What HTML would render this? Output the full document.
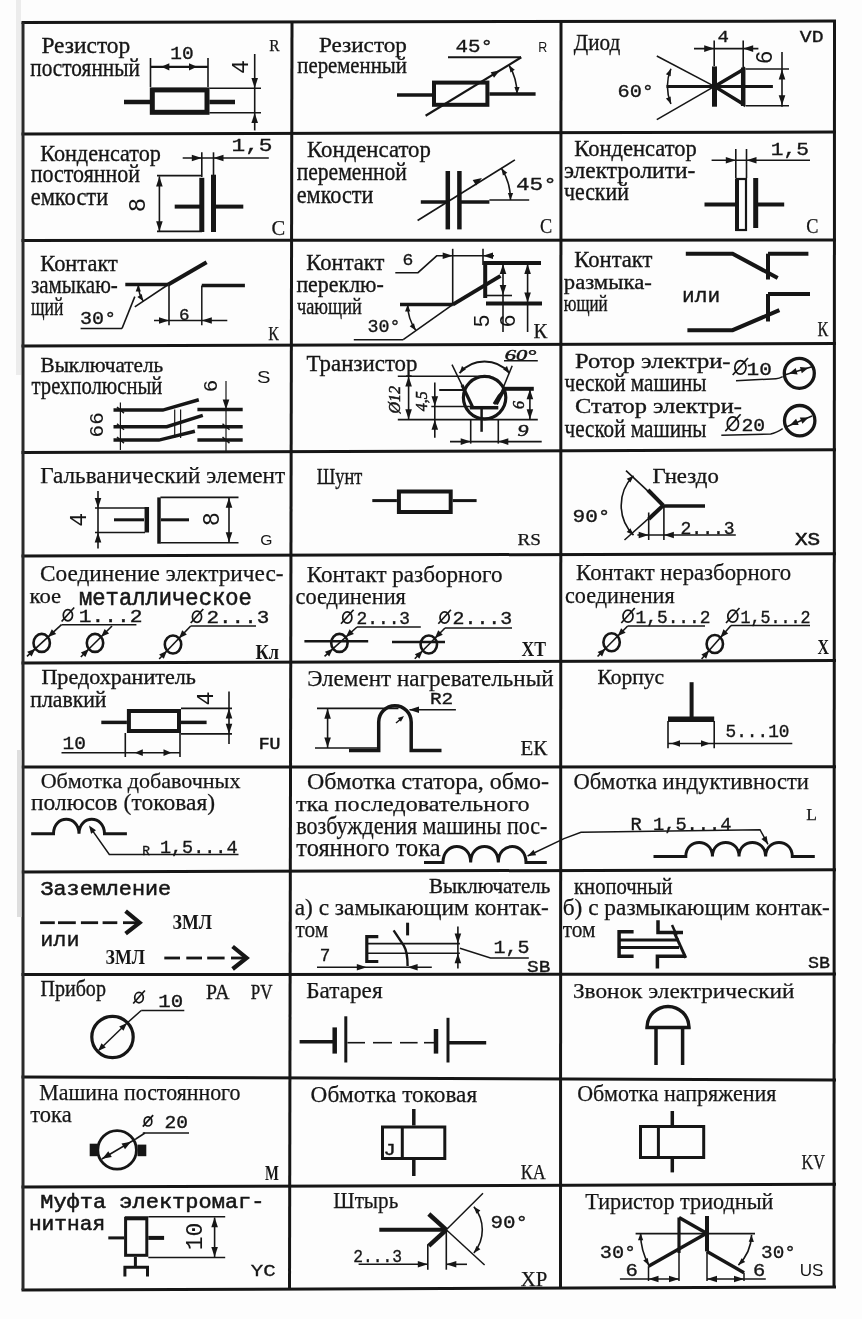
<!DOCTYPE html>
<html lang="ru"><head><meta charset="utf-8"><title>УГО</title>
<style>html,body{margin:0;padding:0;background:#fff;}svg{display:block;will-change:transform;}</style></head>
<body><svg width="862" height="1319" viewBox="0 0 862 1319">
<rect width="862" height="1319" fill="#fdfdfd"/>
<g fill="#161616" stroke-linecap="butt">
<line x1="21.5" y1="22.5" x2="836.0" y2="21" stroke-width="3" stroke="#161616"/>
<line x1="21.5" y1="134" x2="836.0" y2="132" stroke-width="3" stroke="#161616"/>
<line x1="21.5" y1="240.5" x2="836.0" y2="240" stroke-width="3" stroke="#161616"/>
<line x1="21.5" y1="346" x2="836.0" y2="343.6" stroke-width="3" stroke="#161616"/>
<line x1="21.5" y1="452.5" x2="836.0" y2="449.8" stroke-width="3" stroke="#161616"/>
<line x1="21.5" y1="556" x2="836.0" y2="553.7" stroke-width="3" stroke="#161616"/>
<line x1="21.5" y1="663" x2="836.0" y2="660.4" stroke-width="3" stroke="#161616"/>
<line x1="21.5" y1="767" x2="836.0" y2="766.8" stroke-width="3" stroke="#161616"/>
<line x1="21.5" y1="872" x2="836.0" y2="869.7" stroke-width="3" stroke="#161616"/>
<line x1="21.5" y1="974.5" x2="836.0" y2="974.1" stroke-width="3" stroke="#161616"/>
<line x1="21.5" y1="1077" x2="836.0" y2="1079.9" stroke-width="3" stroke="#161616"/>
<line x1="21.5" y1="1187" x2="836.0" y2="1184.3" stroke-width="3" stroke="#161616"/>
<line x1="21.5" y1="1290" x2="836.0" y2="1287" stroke-width="3" stroke="#161616"/>
<line x1="23" y1="22.5" x2="23" y2="1290" stroke-width="3" stroke="#2a2a2a"/>
<line x1="292" y1="21.5" x2="289.5" y2="1290" stroke-width="3" stroke="#161616"/>
<line x1="561" y1="21.5" x2="560.5" y2="1287.5" stroke-width="3" stroke="#161616"/>
<line x1="834.5" y1="21.5" x2="834" y2="1287.5" stroke-width="3" stroke="#161616"/>
<rect x="17" y="750" width="4.5" height="167" fill="#dedede"/>
<rect x="16" y="0" width="5" height="375" fill="#ececec"/>
<text x="41.4" y="53.2" font-size="22.5" font-family="Liberation Serif" stroke="#161616" stroke-width="0.35" textLength="88.8" lengthAdjust="spacingAndGlyphs">Резистор</text>
<text x="30.3" y="75.5" font-size="24.4" font-family="Liberation Serif" stroke="#161616" stroke-width="0.35" textLength="109.6" lengthAdjust="spacingAndGlyphs">постоянный</text>
<text x="170.3" y="59.4" font-size="18" font-family="Liberation Mono" stroke="#161616" stroke-width="0.35" textLength="23.4" lengthAdjust="spacingAndGlyphs">10</text>
<rect x="152.3" y="89.9" width="54.7" height="22.4" stroke-width="5" stroke="#161616" fill="none"/>
<line x1="124" y1="102" x2="150" y2="102" stroke-width="4.5" stroke="#161616"/>
<line x1="209.4" y1="102" x2="235" y2="102" stroke-width="4.5" stroke="#161616"/>
<line x1="150.5" y1="58" x2="150.5" y2="87" stroke-width="1.6" stroke="#161616"/>
<line x1="208" y1="58" x2="208" y2="87" stroke-width="1.6" stroke="#161616"/>
<line x1="150.5" y1="66.8" x2="208" y2="66.8" stroke-width="2.2" stroke="#161616"/>
<path d="M161.3,66.8 L169.3,63.2 L169.3,70.4 Z" fill="#161616"/>
<path d="M197.0,66.8 L189.0,70.4 L189.0,63.2 Z" fill="#161616"/>
<text x="0" y="0" font-size="23" font-family="Liberation Mono" stroke="#161616" stroke-width="0.05" text-anchor="middle" dominant-baseline="central" transform="translate(242,67) rotate(-90)">4</text>
<line x1="254.7" y1="54" x2="254.7" y2="130.4" stroke-width="1.6" stroke="#161616"/>
<path d="M254.7,88.0 L251.4,78.0 L258.0,78.0 Z" fill="#161616"/>
<path d="M254.7,113.0 L258.0,123.0 L251.4,123.0 Z" fill="#161616"/>
<line x1="209.4" y1="88.2" x2="261" y2="88.2" stroke-width="1.6" stroke="#161616"/>
<line x1="209.4" y1="112.7" x2="261" y2="112.7" stroke-width="1.6" stroke="#161616"/>
<text x="269.2" y="50.8" font-size="16" font-family="Liberation Serif" stroke="#161616" stroke-width="0.25" textLength="10.3" lengthAdjust="spacingAndGlyphs">R</text>
<text x="318.9" y="51.8" font-size="21" font-family="Liberation Serif" stroke="#161616" stroke-width="0.35" textLength="88.0" lengthAdjust="spacingAndGlyphs">Резистор</text>
<text x="297.3" y="73.4" font-size="23" font-family="Liberation Serif" stroke="#161616" stroke-width="0.35" textLength="109.6" lengthAdjust="spacingAndGlyphs">переменный</text>
<text x="455.5" y="52" font-size="19" font-family="Liberation Mono" stroke="#161616" stroke-width="0.35" textLength="37.5" lengthAdjust="spacingAndGlyphs">45°</text>
<text x="538.3" y="52" font-size="14" font-family="Liberation Sans" textLength="9.0" lengthAdjust="spacingAndGlyphs">R</text>
<line x1="448" y1="57.3" x2="521" y2="57.3" stroke-width="2" stroke="#161616"/>
<rect x="434" y="82.6" width="53.4" height="22.2" stroke-width="4" stroke="#161616" fill="none"/>
<line x1="397" y1="95" x2="432" y2="95" stroke-width="3.5" stroke="#161616"/>
<line x1="489.4" y1="94" x2="535.6" y2="94" stroke-width="3.5" stroke="#161616"/>
<line x1="425.6" y1="115.7" x2="521.3" y2="57.3" stroke-width="2.2" stroke="#161616"/>
<path d="M500.0,70.3 L494.0,77.7 L490.7,72.3 Z" fill="#161616"/>
<path d="M509.0,65.2 A56,56 0 0 1 517.0,94.0" stroke-width="1.6" stroke="#161616" fill="none"/>
<path d="M509.0,65.2 L514.8,69.8 L510.4,72.5 Z" fill="#161616"/>
<path d="M517.0,94.0 L514.4,87.0 L519.6,87.0 Z" fill="#161616"/>
<text x="573.8" y="49.5" font-size="23" font-family="Liberation Serif" stroke="#161616" stroke-width="0.35" textLength="46.5" lengthAdjust="spacingAndGlyphs">Диод</text>
<text x="717.5" y="42" font-size="17" font-family="Liberation Mono" stroke="#161616" stroke-width="0.35" textLength="11.4" lengthAdjust="spacingAndGlyphs">4</text>
<text x="799.8" y="42" font-size="17" font-family="Liberation Mono" stroke="#161616" stroke-width="0.35" textLength="23.7" lengthAdjust="spacingAndGlyphs">VD</text>
<line x1="694" y1="48.6" x2="758.4" y2="48.6" stroke-width="1.6" stroke="#161616"/>
<path d="M714.2,48.6 L704.2,51.9 L704.2,45.3 Z" fill="#161616"/>
<path d="M743.2,48.6 L753.2,45.3 L753.2,51.9 Z" fill="#161616"/>
<line x1="714.2" y1="40.6" x2="714.2" y2="66" stroke-width="1.6" stroke="#161616"/>
<line x1="743.2" y1="40.6" x2="743.2" y2="68" stroke-width="1.6" stroke="#161616"/>
<line x1="714.5" y1="66.4" x2="714.5" y2="106.7" stroke-width="5" stroke="#161616"/>
<path d="M714.5,86.4 L743.2,69.5 L743.2,104 Z" stroke-width="3.5" stroke="#161616" fill="none"/>
<line x1="743.2" y1="67.5" x2="743.2" y2="106" stroke-width="4.5" stroke="#161616"/>
<line x1="666.5" y1="86.4" x2="772.9" y2="86.4" stroke-width="3" stroke="#161616"/>
<line x1="714.5" y1="86.4" x2="656.8" y2="56" stroke-width="1.6" stroke="#161616"/>
<line x1="714.5" y1="86.4" x2="656.8" y2="119.6" stroke-width="1.6" stroke="#161616"/>
<path d="M670.9,68.8 A47,47 0 0 0 670.9,104.0" stroke-width="1.6" stroke="#161616" fill="none"/>
<path d="M670.9,68.8 L670.7,76.3 L665.9,74.3 Z" fill="#161616"/>
<path d="M670.9,104.0 L665.9,98.5 L670.7,96.5 Z" fill="#161616"/>
<text x="617.5" y="97" font-size="19" font-family="Liberation Mono" stroke="#161616" stroke-width="0.35" textLength="36.5" lengthAdjust="spacingAndGlyphs">60°</text>
<line x1="782" y1="52" x2="782" y2="106.7" stroke-width="1.6" stroke="#161616"/>
<line x1="745.5" y1="69" x2="789" y2="69" stroke-width="1.6" stroke="#161616"/>
<line x1="745.5" y1="105.7" x2="789" y2="105.7" stroke-width="1.6" stroke="#161616"/>
<path d="M782.0,69.5 L785.3,79.5 L778.7,79.5 Z" fill="#161616"/>
<path d="M782.0,105.2 L778.7,95.2 L785.3,95.2 Z" fill="#161616"/>
<text x="0" y="0" font-size="23" font-family="Liberation Mono" stroke="#161616" stroke-width="0.05" text-anchor="middle" dominant-baseline="central" transform="translate(765.6,57.4) rotate(-90)">6</text>
<text x="40.2" y="161.1" font-size="24" font-family="Liberation Serif" stroke="#161616" stroke-width="0.35" textLength="120.7" lengthAdjust="spacingAndGlyphs">Конденсатор</text>
<text x="30.7" y="182.3" font-size="26" font-family="Liberation Serif" stroke="#161616" stroke-width="0.35" textLength="109.4" lengthAdjust="spacingAndGlyphs">постоянной</text>
<text x="30.7" y="205.3" font-size="26" font-family="Liberation Serif" stroke="#161616" stroke-width="0.35" textLength="77.5" lengthAdjust="spacingAndGlyphs">емкости</text>
<text x="231.5" y="150.7" font-size="18" font-family="Liberation Mono" stroke="#161616" stroke-width="0.35" textLength="41.0" lengthAdjust="spacingAndGlyphs">1,5</text>
<line x1="182.7" y1="158" x2="268.8" y2="158" stroke-width="1.6" stroke="#161616"/>
<path d="M201.8,158.0 L191.8,161.3 L191.8,154.7 Z" fill="#161616"/>
<path d="M213.5,158.0 L223.5,154.7 L223.5,161.3 Z" fill="#161616"/>
<line x1="201.8" y1="152.3" x2="201.8" y2="177" stroke-width="1.6" stroke="#161616"/>
<line x1="213.5" y1="152.3" x2="213.5" y2="175" stroke-width="1.6" stroke="#161616"/>
<line x1="201.8" y1="177.8" x2="201.8" y2="232" stroke-width="5" stroke="#161616"/>
<line x1="213.5" y1="174.7" x2="213.5" y2="232" stroke-width="5" stroke="#161616"/>
<line x1="174.7" y1="206.6" x2="200" y2="206.6" stroke-width="4" stroke="#161616"/>
<line x1="216" y1="206.6" x2="243.3" y2="206.6" stroke-width="4" stroke="#161616"/>
<line x1="159.4" y1="176.3" x2="159.4" y2="231.4" stroke-width="1.6" stroke="#161616"/>
<path d="M159.4,176.5 L162.7,186.5 L156.1,186.5 Z" fill="#161616"/>
<path d="M159.4,231.2 L156.1,221.2 L162.7,221.2 Z" fill="#161616"/>
<line x1="157" y1="175.6" x2="202" y2="175.6" stroke-width="1.6" stroke="#161616"/>
<line x1="157" y1="231.4" x2="202" y2="231.4" stroke-width="1.6" stroke="#161616"/>
<text x="0" y="0" font-size="24" font-family="Liberation Mono" stroke="#161616" stroke-width="0.05" text-anchor="middle" dominant-baseline="central" transform="translate(138.8,205) rotate(-90)">8</text>
<text x="271.5" y="235.3" font-size="21" font-family="Liberation Serif" stroke="#161616" stroke-width="0.25" textLength="13.7" lengthAdjust="spacingAndGlyphs">C</text>
<text x="307.0" y="157.4" font-size="23.5" font-family="Liberation Serif" stroke="#161616" stroke-width="0.35" textLength="123.9" lengthAdjust="spacingAndGlyphs">Конденсатор</text>
<text x="296.7" y="180.4" font-size="24.4" font-family="Liberation Serif" stroke="#161616" stroke-width="0.35" textLength="110.2" lengthAdjust="spacingAndGlyphs">переменной</text>
<text x="296.7" y="203.4" font-size="26" font-family="Liberation Serif" stroke="#161616" stroke-width="0.35" textLength="76.8" lengthAdjust="spacingAndGlyphs">емкости</text>
<line x1="447.8" y1="171" x2="447.8" y2="229.4" stroke-width="4.5" stroke="#161616"/>
<line x1="459.4" y1="171" x2="459.4" y2="229.4" stroke-width="4.5" stroke="#161616"/>
<line x1="420.8" y1="202" x2="446" y2="202" stroke-width="3.5" stroke="#161616"/>
<line x1="461" y1="202" x2="489.4" y2="202" stroke-width="3.5" stroke="#161616"/>
<line x1="489.4" y1="200" x2="529.2" y2="200" stroke-width="1.6" stroke="#161616"/>
<line x1="417.6" y1="220.5" x2="514.9" y2="159.9" stroke-width="1.7" stroke="#161616"/>
<path d="M482.0,178.0 L476.1,185.5 L472.7,180.1 Z" fill="#161616"/>
<path d="M501.4,168.2 A60,60 0 0 1 510.5,200.0" stroke-width="1.6" stroke="#161616" fill="none"/>
<path d="M501.4,168.2 L507.3,172.8 L502.9,175.5 Z" fill="#161616"/>
<path d="M510.5,200.0 L507.9,193.0 L513.1,193.0 Z" fill="#161616"/>
<text x="516.0" y="190" font-size="19" font-family="Liberation Mono" stroke="#161616" stroke-width="0.35" textLength="40.8" lengthAdjust="spacingAndGlyphs">45°</text>
<text x="539.9" y="233.3" font-size="21" font-family="Liberation Serif" stroke="#161616" stroke-width="0.25" textLength="12.2" lengthAdjust="spacingAndGlyphs">C</text>
<text x="574.3" y="155.6" font-size="23.5" font-family="Liberation Serif" stroke="#161616" stroke-width="0.35" textLength="122.6" lengthAdjust="spacingAndGlyphs">Конденсатор</text>
<text x="563.9" y="178" font-size="22.7" font-family="Liberation Serif" stroke="#161616" stroke-width="0.35" textLength="131.4" lengthAdjust="spacingAndGlyphs">электролити-</text>
<text x="563.9" y="200.4" font-size="24.4" font-family="Liberation Serif" stroke="#161616" stroke-width="0.35" textLength="65.0" lengthAdjust="spacingAndGlyphs">ческий</text>
<text x="770.8" y="155.4" font-size="18" font-family="Liberation Mono" stroke="#161616" stroke-width="0.35" textLength="38.1" lengthAdjust="spacingAndGlyphs">1,5</text>
<line x1="711.6" y1="160.3" x2="810" y2="160.3" stroke-width="1.6" stroke="#161616"/>
<path d="M735.8,160.3 L725.8,163.6 L725.8,157.0 Z" fill="#161616"/>
<path d="M746.5,160.3 L756.5,157.0 L756.5,163.6 Z" fill="#161616"/>
<line x1="735.8" y1="149" x2="735.8" y2="178" stroke-width="1.6" stroke="#161616"/>
<line x1="746.5" y1="149" x2="746.5" y2="178" stroke-width="1.6" stroke="#161616"/>
<rect x="736.5" y="179" width="9.5" height="51" stroke-width="2.2" stroke="#161616" fill="none"/>
<line x1="737" y1="179" x2="737" y2="231" stroke-width="4" stroke="#161616"/>
<line x1="755.7" y1="178" x2="755.7" y2="228" stroke-width="5" stroke="#161616"/>
<line x1="704.5" y1="204.5" x2="735" y2="204.5" stroke-width="4" stroke="#161616"/>
<line x1="758" y1="204.5" x2="784.2" y2="204.5" stroke-width="4" stroke="#161616"/>
<text x="806.3" y="232.8" font-size="21" font-family="Liberation Serif" stroke="#161616" stroke-width="0.25" textLength="12.2" lengthAdjust="spacingAndGlyphs">C</text>
<text x="40.3" y="271.1" font-size="23" font-family="Liberation Serif" stroke="#161616" stroke-width="0.35" textLength="77.5" lengthAdjust="spacingAndGlyphs">Контакт</text>
<text x="31.0" y="293.2" font-size="25" font-family="Liberation Serif" stroke="#161616" stroke-width="0.35" textLength="86.8" lengthAdjust="spacingAndGlyphs">замыкаю-</text>
<text x="31.0" y="315.2" font-size="25" font-family="Liberation Serif" stroke="#161616" stroke-width="0.35" textLength="32.3" lengthAdjust="spacingAndGlyphs">щий</text>
<text x="80.1" y="323.7" font-size="19" font-family="Liberation Mono" stroke="#161616" stroke-width="0.35" textLength="36.1" lengthAdjust="spacingAndGlyphs">30°</text>
<line x1="80.6" y1="328.5" x2="122" y2="328.5" stroke-width="1.6" stroke="#161616"/>
<line x1="122" y1="328.5" x2="134.8" y2="296.6" stroke-width="1.6" stroke="#161616"/>
<line x1="125.3" y1="284.5" x2="168.3" y2="284.5" stroke-width="3.5" stroke="#161616"/>
<line x1="168.3" y1="284.5" x2="206.6" y2="262.2" stroke-width="4" stroke="#161616"/>
<line x1="168.3" y1="284.5" x2="134.8" y2="306.8" stroke-width="1.6" stroke="#161616"/>
<path d="M138.3,284.5 A30,30 0 0 0 143.4,301.3" stroke-width="1.5" stroke="#161616" fill="none"/>
<path d="M138.3,284.5 L140.9,291.5 L135.7,291.5 Z" fill="#161616"/>
<path d="M143.4,301.3 L137.4,296.9 L141.7,294.0 Z" fill="#161616"/>
<line x1="169" y1="284.5" x2="169" y2="325.3" stroke-width="1.6" stroke="#161616"/>
<line x1="201.8" y1="285.4" x2="201.8" y2="325.3" stroke-width="1.5" stroke="#161616"/>
<line x1="201.8" y1="285.4" x2="244.9" y2="285.4" stroke-width="3.5" stroke="#161616"/>
<line x1="154" y1="320.5" x2="227.3" y2="320.5" stroke-width="1.6" stroke="#161616"/>
<path d="M169.0,320.5 L159.0,323.8 L159.0,317.2 Z" fill="#161616"/>
<path d="M201.8,320.5 L211.8,317.2 L211.8,323.8 Z" fill="#161616"/>
<text x="179.0" y="320" font-size="17" font-family="Liberation Mono" stroke="#161616" stroke-width="0.35" textLength="10.5" lengthAdjust="spacingAndGlyphs">6</text>
<text x="268.3" y="339.7" font-size="19" font-family="Liberation Serif" stroke="#161616" stroke-width="0.25" textLength="10.6" lengthAdjust="spacingAndGlyphs">К</text>
<text x="306.3" y="270" font-size="23" font-family="Liberation Serif" stroke="#161616" stroke-width="0.35" textLength="78.1" lengthAdjust="spacingAndGlyphs">Контакт</text>
<text x="296.4" y="292" font-size="24" font-family="Liberation Serif" stroke="#161616" stroke-width="0.35" textLength="87.4" lengthAdjust="spacingAndGlyphs">переклю-</text>
<text x="297.0" y="314" font-size="24" font-family="Liberation Serif" stroke="#161616" stroke-width="0.35" textLength="64.8" lengthAdjust="spacingAndGlyphs">чающий</text>
<text x="402.5" y="264.7" font-size="17" font-family="Liberation Mono" stroke="#161616" stroke-width="0.35" textLength="10.8" lengthAdjust="spacingAndGlyphs">6</text>
<path d="M395.3,272.7 L418,272.7 L436.7,255.8 L494,255.8" stroke-width="1.6" stroke="#161616" fill="none"/>
<path d="M452.7,255.8 L442.7,259.1 L442.7,252.5 Z" fill="#161616"/>
<path d="M483.0,255.8 L493.0,252.5 L493.0,259.1 Z" fill="#161616"/>
<line x1="452.7" y1="248.8" x2="452.7" y2="304.6" stroke-width="1.6" stroke="#161616"/>
<line x1="483" y1="248.8" x2="483" y2="265" stroke-width="1.6" stroke="#161616"/>
<line x1="400" y1="304.6" x2="452.7" y2="304.6" stroke-width="3.5" stroke="#161616"/>
<line x1="452.7" y1="304.6" x2="500.5" y2="275.9" stroke-width="4" stroke="#161616"/>
<line x1="353.8" y1="339.7" x2="403.2" y2="339.7" stroke-width="1.6" stroke="#161616"/>
<line x1="403.2" y1="339.7" x2="452.7" y2="304.6" stroke-width="1.6" stroke="#161616"/>
<path d="M407.7,304.6 A45,45 0 0 0 415.8,330.4" stroke-width="1.5" stroke="#161616" fill="none"/>
<path d="M407.7,304.6 L410.3,311.6 L405.1,311.6 Z" fill="#161616"/>
<path d="M415.8,330.4 L409.7,326.2 L414.0,323.2 Z" fill="#161616"/>
<text x="367.5" y="331.7" font-size="19" font-family="Liberation Mono" stroke="#161616" stroke-width="0.35" textLength="33.0" lengthAdjust="spacingAndGlyphs">30°</text>
<path d="M485.2,298 L485.2,263 L541,263" stroke-width="4" stroke="#161616" fill="none"/>
<line x1="486" y1="303.6" x2="542" y2="303.6" stroke-width="4" stroke="#161616"/>
<line x1="503" y1="263" x2="503" y2="332" stroke-width="1.6" stroke="#161616"/>
<path d="M503.0,264.0 L506.3,274.0 L499.7,274.0 Z" fill="#161616"/>
<path d="M503.0,295.0 L499.7,285.0 L506.3,285.0 Z" fill="#161616"/>
<line x1="485" y1="295.5" x2="512" y2="295.5" stroke-width="1.6" stroke="#161616"/>
<line x1="527.6" y1="263" x2="527.6" y2="332" stroke-width="1.6" stroke="#161616"/>
<path d="M527.6,264.0 L530.9,274.0 L524.3,274.0 Z" fill="#161616"/>
<path d="M527.6,302.6 L524.3,292.6 L530.9,292.6 Z" fill="#161616"/>
<text x="0" y="0" font-size="22" font-family="Liberation Mono" stroke="#161616" stroke-width="0.05" text-anchor="middle" dominant-baseline="central" transform="translate(483.5,321) rotate(-90)">5</text>
<text x="0" y="0" font-size="22" font-family="Liberation Mono" stroke="#161616" stroke-width="0.05" text-anchor="middle" dominant-baseline="central" transform="translate(509.5,321) rotate(-90)">6</text>
<text x="533.5" y="338" font-size="21" font-family="Liberation Serif" stroke="#161616" stroke-width="0.25" textLength="13.8" lengthAdjust="spacingAndGlyphs">К</text>
<text x="574.3" y="267.1" font-size="23" font-family="Liberation Serif" stroke="#161616" stroke-width="0.35" textLength="78.1" lengthAdjust="spacingAndGlyphs">Контакт</text>
<text x="563.8" y="289.2" font-size="21.6" font-family="Liberation Serif" stroke="#161616" stroke-width="0.35" textLength="88.0" lengthAdjust="spacingAndGlyphs">размыка-</text>
<text x="563.8" y="311.2" font-size="22.6" font-family="Liberation Serif" stroke="#161616" stroke-width="0.35" textLength="43.9" lengthAdjust="spacingAndGlyphs">ющий</text>
<text x="682.1" y="302" font-size="20" font-family="Liberation Mono" stroke="#161616" stroke-width="0.35" textLength="38.1" lengthAdjust="spacingAndGlyphs">или</text>
<path d="M685.8,253.7 L732.6,253.7 L777.7,278" stroke-width="4" stroke="#161616" fill="none"/>
<line x1="768" y1="253.7" x2="768" y2="279.5" stroke-width="4" stroke="#161616"/>
<line x1="768" y1="253.7" x2="808.4" y2="253.7" stroke-width="4" stroke="#161616"/>
<path d="M687.4,330.2 L732.6,330.2 L779.4,310.2" stroke-width="4" stroke="#161616" fill="none"/>
<line x1="768" y1="294" x2="768" y2="321.5" stroke-width="4" stroke="#161616"/>
<line x1="768" y1="294" x2="810" y2="294" stroke-width="4" stroke="#161616"/>
<text x="817.5" y="336" font-size="21" font-family="Liberation Serif" stroke="#161616" stroke-width="0.25" textLength="10.7" lengthAdjust="spacingAndGlyphs">К</text>
<text x="40.5" y="371.9" font-size="21" font-family="Liberation Serif" stroke="#161616" stroke-width="0.35" textLength="122.7" lengthAdjust="spacingAndGlyphs">Выключатель</text>
<text x="31.6" y="394.4" font-size="25.3" font-family="Liberation Serif" stroke="#161616" stroke-width="0.35" textLength="130.8" lengthAdjust="spacingAndGlyphs">трехполюсный</text>
<text x="257.0" y="382.5" font-size="17" font-family="Liberation Sans" textLength="13.5" lengthAdjust="spacingAndGlyphs">S</text>
<path d="M113.5,410.1 L162.8,410.1 L198.8,399.7" stroke-width="3.5" stroke="#161616" fill="none"/>
<path d="M113.5,426.7 L166.8,426.7 L202.8,415.4" stroke-width="3.5" stroke="#161616" fill="none"/>
<path d="M113.5,440.1 L158.9,440.1 L194.9,431.2" stroke-width="3.5" stroke="#161616" fill="none"/>
<line x1="197.4" y1="409.5" x2="242.7" y2="409.5" stroke-width="3.5" stroke="#161616"/>
<line x1="197.4" y1="426.7" x2="242.7" y2="426.7" stroke-width="3.5" stroke="#161616"/>
<line x1="197.4" y1="440.1" x2="242.7" y2="440.1" stroke-width="3.5" stroke="#161616"/>
<line x1="174.7" y1="409.5" x2="174.7" y2="438.1" stroke-width="1.2" stroke="#161616"/>
<line x1="180.6" y1="409.5" x2="180.6" y2="438.1" stroke-width="1.2" stroke="#161616"/>
<line x1="120.4" y1="402.6" x2="120.4" y2="450" stroke-width="1.2" stroke="#161616"/>
<line x1="117" y1="407.1" x2="124" y2="413.1" stroke-width="1.5" stroke="#161616"/>
<line x1="117" y1="423.7" x2="124" y2="429.7" stroke-width="1.5" stroke="#161616"/>
<line x1="117" y1="437.1" x2="124" y2="443.1" stroke-width="1.5" stroke="#161616"/>
<line x1="226" y1="381" x2="226" y2="451" stroke-width="1.2" stroke="#161616"/>
<path d="M226.0,409.5 L222.7,399.5 L229.3,399.5 Z" fill="#161616"/>
<line x1="222.5" y1="423.7" x2="229.5" y2="429.7" stroke-width="1.5" stroke="#161616"/>
<line x1="222.5" y1="437.1" x2="229.5" y2="443.1" stroke-width="1.5" stroke="#161616"/>
<text x="0" y="0" font-size="21" font-family="Liberation Mono" stroke="#161616" stroke-width="0.05" text-anchor="middle" dominant-baseline="central" transform="translate(97.7,424.8) rotate(-90)">66</text>
<text x="0" y="0" font-size="21" font-family="Liberation Mono" stroke="#161616" stroke-width="0.05" text-anchor="middle" dominant-baseline="central" transform="translate(211,386) rotate(-90)">6</text>
<text x="306.5" y="370.9" font-size="23.4" font-family="Liberation Serif" stroke="#161616" stroke-width="0.35" textLength="111.0" lengthAdjust="spacingAndGlyphs">Транзистор</text>
<text x="504.7" y="359.5" font-size="15" font-family="Liberation Serif" font-style="italic" stroke="#161616" stroke-width="0.5" textLength="31.6" lengthAdjust="spacingAndGlyphs">60°</text>
<line x1="504" y1="360.8" x2="537.8" y2="360.8" stroke-width="1.6" stroke="#161616"/>
<circle cx="484.6" cy="397.6" r="21.2" stroke-width="3.2" stroke="#161616" fill="none"/>
<line x1="397.8" y1="376.2" x2="490.5" y2="376.2" stroke-width="1.6" stroke="#161616"/>
<line x1="397.8" y1="419.6" x2="537.8" y2="419.6" stroke-width="1.6" stroke="#161616"/>
<line x1="431.3" y1="406.5" x2="472.7" y2="406.5" stroke-width="1.6" stroke="#161616"/>
<line x1="439.2" y1="390" x2="465.8" y2="390" stroke-width="2" stroke="#161616"/>
<line x1="503.3" y1="388.8" x2="533.8" y2="388.8" stroke-width="4" stroke="#161616"/>
<line x1="452" y1="364.7" x2="472.7" y2="407.1" stroke-width="1.5" stroke="#161616"/>
<line x1="462" y1="385" x2="472.7" y2="407.1" stroke-width="3.2" stroke="#161616"/>
<line x1="512.2" y1="365.7" x2="496.4" y2="404.2" stroke-width="1.5" stroke="#161616"/>
<line x1="505" y1="388" x2="496.4" y2="404.2" stroke-width="3.2" stroke="#161616"/>
<line x1="469.8" y1="407.7" x2="498.3" y2="407.7" stroke-width="3.5" stroke="#161616"/>
<line x1="481.6" y1="407.7" x2="481.6" y2="431.8" stroke-width="2.5" stroke="#161616"/>
<path d="M503.5,391 L494,404 L499,396 Z" stroke-width="3" stroke="#161616" fill="none"/>
<path d="M459.5,373.1 A32.7,32.7 0 0 1 509.5,373.1" stroke-width="2" stroke="#161616" fill="none"/>
<path d="M459.5,373.1 L462.0,366.0 L465.9,369.4 Z" fill="#161616"/>
<path d="M509.5,373.1 L503.1,369.4 L507.0,366.0 Z" fill="#161616"/>
<line x1="408.6" y1="376.2" x2="408.6" y2="419.6" stroke-width="1.6" stroke="#161616"/>
<path d="M408.6,376.5 L411.9,386.5 L405.3,386.5 Z" fill="#161616"/>
<path d="M408.6,419.3 L405.3,409.3 L411.9,409.3 Z" fill="#161616"/>
<text x="0" y="0" font-size="16" font-family="Liberation Serif" font-style="italic" stroke="#161616" stroke-width="0.5" text-anchor="middle" dominant-baseline="central" transform="translate(394.8,399.7) rotate(-90)">Ø12</text>
<line x1="434.8" y1="382.5" x2="434.8" y2="437.7" stroke-width="1.6" stroke="#161616"/>
<path d="M434.8,406.3 L431.5,396.3 L438.1,396.3 Z" fill="#161616"/>
<path d="M434.8,419.8 L438.1,429.8 L431.5,429.8 Z" fill="#161616"/>
<text x="0" y="0" font-size="16" font-family="Liberation Serif" font-style="italic" stroke="#161616" stroke-width="0.5" text-anchor="middle" dominant-baseline="central" transform="translate(421.4,401.2) rotate(-90)">4,5</text>
<line x1="529.9" y1="388.8" x2="529.9" y2="419.6" stroke-width="1.6" stroke="#161616"/>
<path d="M529.9,389.2 L533.2,399.2 L526.6,399.2 Z" fill="#161616"/>
<path d="M529.9,419.2 L526.6,409.2 L533.2,409.2 Z" fill="#161616"/>
<text x="0" y="0" font-size="16" font-family="Liberation Serif" font-style="italic" stroke="#161616" stroke-width="0.5" text-anchor="middle" dominant-baseline="central" transform="translate(518,405) rotate(-90)">6</text>
<line x1="470.7" y1="419.6" x2="470.7" y2="443.6" stroke-width="1.6" stroke="#161616"/>
<line x1="498.3" y1="419.6" x2="498.3" y2="443.6" stroke-width="1.6" stroke="#161616"/>
<line x1="450" y1="441.6" x2="541.7" y2="441.6" stroke-width="1.6" stroke="#161616"/>
<path d="M470.7,441.6 L460.7,444.9 L460.7,438.3 Z" fill="#161616"/>
<path d="M498.3,441.6 L508.3,438.3 L508.3,444.9 Z" fill="#161616"/>
<text x="517.5" y="435.7" font-size="17" font-family="Liberation Serif" font-style="italic" stroke="#161616" stroke-width="0.5" textLength="11.0" lengthAdjust="spacingAndGlyphs">9</text>
<text x="575.1" y="367.7" font-size="21" font-family="Liberation Serif" stroke="#161616" stroke-width="0.35" textLength="155.4" lengthAdjust="spacingAndGlyphs">Ротор электри-</text>
<ellipse cx="740.4" cy="367.4" rx="5.6" ry="6.8" stroke="#161616" stroke-width="1.7" fill="none"/>
<line x1="732.7" y1="375" x2="748.0" y2="358.0" stroke-width="1.7" stroke="#161616"/>
<text x="746.5" y="374.7" font-size="19" font-family="Liberation Mono" stroke="#161616" stroke-width="0.35" textLength="25.3" lengthAdjust="spacingAndGlyphs">10</text>
<text x="564.6" y="390.7" font-size="25" font-family="Liberation Serif" stroke="#161616" stroke-width="0.35" textLength="141.9" lengthAdjust="spacingAndGlyphs">ческой машины</text>
<text x="575.1" y="412.6" font-size="21" font-family="Liberation Serif" stroke="#161616" stroke-width="0.35" textLength="166.9" lengthAdjust="spacingAndGlyphs">Статор электри-</text>
<ellipse cx="732.9" cy="423.7" rx="5.6" ry="6.8" stroke="#161616" stroke-width="1.7" fill="none"/>
<line x1="725.3" y1="431.3" x2="740.5999999999999" y2="414.3" stroke-width="1.7" stroke="#161616"/>
<text x="741.5" y="430.7" font-size="19" font-family="Liberation Mono" stroke="#161616" stroke-width="0.35" textLength="23.7" lengthAdjust="spacingAndGlyphs">20</text>
<text x="564.5" y="436.6" font-size="26" font-family="Liberation Serif" stroke="#161616" stroke-width="0.35" textLength="142.0" lengthAdjust="spacingAndGlyphs">ческой машины</text>
<circle cx="799.3" cy="373.3" r="15" stroke-width="3.3" stroke="#161616" fill="none"/>
<line x1="785.3" y1="374.7" x2="812" y2="366.7" stroke-width="1.5" stroke="#161616"/>
<path d="M789.0,373.6 L795.7,368.1 L797.6,374.4 Z" fill="#161616"/>
<path d="M808.5,367.8 L801.8,373.3 L799.9,367.0 Z" fill="#161616"/>
<path d="M782.7,376.7 Q779,378.7 776,378.7 L736,380.7" stroke-width="1.5" stroke="#161616" fill="none"/>
<circle cx="799.7" cy="420.7" r="15.2" stroke-width="3.3" stroke="#161616" fill="none"/>
<line x1="786.7" y1="426.7" x2="812" y2="416" stroke-width="1.5" stroke="#161616"/>
<path d="M790.0,425.0 L796.1,418.8 L798.7,424.9 Z" fill="#161616"/>
<path d="M808.5,417.5 L802.4,423.7 L799.8,417.6 Z" fill="#161616"/>
<path d="M782.7,428.7 Q776,433 770.7,434 L721.3,435.3" stroke-width="1.5" stroke="#161616" fill="none"/>
<text x="40.2" y="483.1" font-size="23" font-family="Liberation Serif" stroke="#161616" stroke-width="0.25" textLength="245.0" lengthAdjust="spacingAndGlyphs">Гальванический элемент</text>
<line x1="146.8" y1="507" x2="146.8" y2="532.5" stroke-width="4.5" stroke="#161616"/>
<line x1="159" y1="497.4" x2="159" y2="543.7" stroke-width="3.5" stroke="#161616"/>
<line x1="114" y1="519.8" x2="144" y2="519.8" stroke-width="3" stroke="#161616"/>
<line x1="161" y1="519.8" x2="189" y2="519.8" stroke-width="3" stroke="#161616"/>
<line x1="95" y1="508" x2="145" y2="508" stroke-width="1.6" stroke="#161616"/>
<line x1="95" y1="532.5" x2="145" y2="532.5" stroke-width="1.6" stroke="#161616"/>
<line x1="98" y1="491" x2="98" y2="548.5" stroke-width="1.6" stroke="#161616"/>
<path d="M98.0,508.0 L94.7,498.0 L101.3,498.0 Z" fill="#161616"/>
<path d="M98.0,532.5 L101.3,542.5 L94.7,542.5 Z" fill="#161616"/>
<text x="0" y="0" font-size="23" font-family="Liberation Mono" stroke="#161616" stroke-width="0.05" text-anchor="middle" dominant-baseline="central" transform="translate(79.8,519.8) rotate(-90)">4</text>
<line x1="160.4" y1="497.4" x2="238.5" y2="497.4" stroke-width="1.6" stroke="#161616"/>
<line x1="160.4" y1="542.7" x2="238.5" y2="542.7" stroke-width="1.6" stroke="#161616"/>
<line x1="229" y1="497.4" x2="229" y2="542.7" stroke-width="1.6" stroke="#161616"/>
<path d="M229.0,497.8 L232.3,507.8 L225.7,507.8 Z" fill="#161616"/>
<path d="M229.0,542.3 L225.7,532.3 L232.3,532.3 Z" fill="#161616"/>
<text x="0" y="0" font-size="23" font-family="Liberation Mono" stroke="#161616" stroke-width="0.05" text-anchor="middle" dominant-baseline="central" transform="translate(213,519) rotate(-90)">8</text>
<text x="260.3" y="545.3" font-size="15" font-family="Liberation Sans" textLength="12.2" lengthAdjust="spacingAndGlyphs">G</text>
<text x="316.8" y="483.6" font-size="22.3" font-family="Liberation Serif" stroke="#161616" stroke-width="0.35" textLength="45.5" lengthAdjust="spacingAndGlyphs">Шунт</text>
<rect x="398.9" y="491.5" width="51.8" height="20.5" stroke-width="4" stroke="#161616" fill="none"/>
<line x1="372.3" y1="500.6" x2="396.9" y2="500.6" stroke-width="3" stroke="#161616"/>
<line x1="452.7" y1="500.6" x2="476.6" y2="500.6" stroke-width="3" stroke="#161616"/>
<text x="517.5" y="545.3" font-size="16" font-family="Liberation Serif" stroke="#161616" stroke-width="0.25" textLength="23.4" lengthAdjust="spacingAndGlyphs">RS</text>
<text x="652.4" y="482.9" font-size="22" font-family="Liberation Serif" stroke="#161616" stroke-width="0.35" textLength="66.4" lengthAdjust="spacingAndGlyphs">Гнездо</text>
<text x="572.5" y="522.2" font-size="18" font-family="Liberation Mono" stroke="#161616" stroke-width="0.35" textLength="38.0" lengthAdjust="spacingAndGlyphs">90°</text>
<line x1="626" y1="470.6" x2="663.2" y2="505.4" stroke-width="1.6" stroke="#161616"/>
<line x1="663.2" y1="505.4" x2="624.5" y2="540" stroke-width="1.6" stroke="#161616"/>
<line x1="648" y1="490" x2="663.2" y2="505.4" stroke-width="4" stroke="#161616"/>
<line x1="663.2" y1="505.4" x2="648.7" y2="519" stroke-width="4" stroke="#161616"/>
<line x1="663.2" y1="506" x2="705" y2="506" stroke-width="3.5" stroke="#161616"/>
<path d="M633.5,475.7 A42,42 0 0 0 633.5,535.1" stroke-width="1.6" stroke="#161616" fill="none"/>
<path d="M633.5,475.7 L630.4,482.5 L626.7,478.8 Z" fill="#161616"/>
<path d="M633.5,535.1 L626.7,532.0 L630.4,528.3 Z" fill="#161616"/>
<line x1="648.7" y1="512.5" x2="648.7" y2="540" stroke-width="1.6" stroke="#161616"/>
<line x1="663.9" y1="506" x2="663.9" y2="540" stroke-width="1.6" stroke="#161616"/>
<line x1="637.4" y1="535" x2="735.8" y2="535" stroke-width="1.6" stroke="#161616"/>
<path d="M648.7,535.0 L638.7,538.3 L638.7,531.7 Z" fill="#161616"/>
<path d="M663.9,535.0 L673.9,531.7 L673.9,538.3 Z" fill="#161616"/>
<text x="680.5" y="533.5" font-size="18" font-family="Liberation Mono" stroke="#161616" stroke-width="0.35" textLength="54.2" lengthAdjust="spacingAndGlyphs">2...3</text>
<text x="795.0" y="544.8" font-size="18" font-family="Liberation Mono" stroke="#161616" stroke-width="0.55" textLength="25.2" lengthAdjust="spacingAndGlyphs">XS</text>
<text x="40.0" y="580.9" font-size="22.3" font-family="Liberation Serif" stroke="#161616" stroke-width="0.25" textLength="243.5" lengthAdjust="spacingAndGlyphs">Соединение электричес-</text>
<text x="29.6" y="603.2" font-size="21.4" font-family="Liberation Serif" stroke="#161616" stroke-width="0.25" textLength="31.6" lengthAdjust="spacingAndGlyphs">кое</text>
<text x="79.0" y="604.6" font-size="23" font-family="Liberation Mono" stroke="#161616" stroke-width="0.55" textLength="172.8" lengthAdjust="spacingAndGlyphs">металлическое</text>
<ellipse cx="67.9" cy="615.2" rx="4.6" ry="5.6" stroke="#161616" stroke-width="1.7" fill="none"/>
<line x1="61.6" y1="621.5" x2="74.2" y2="607.5" stroke-width="1.7" stroke="#161616"/>
<text x="78.8" y="621.5" font-size="18" font-family="Liberation Mono" stroke="#161616" stroke-width="0.35" textLength="63.8" lengthAdjust="spacingAndGlyphs">1...2</text>
<ellipse cx="197.0" cy="616.7" rx="4.6" ry="5.6" stroke="#161616" stroke-width="1.7" fill="none"/>
<line x1="190.7" y1="623" x2="203.29999999999998" y2="609.0" stroke-width="1.7" stroke="#161616"/>
<text x="206.5" y="623" font-size="18" font-family="Liberation Mono" stroke="#161616" stroke-width="0.35" textLength="62.8" lengthAdjust="spacingAndGlyphs">2...3</text>
<line x1="61.5" y1="624.7" x2="136.4" y2="624.7" stroke-width="1.6" stroke="#161616"/>
<line x1="190.7" y1="626" x2="256" y2="626" stroke-width="1.6" stroke="#161616"/>
<ellipse cx="41.7" cy="642.9" rx="8.2" ry="9.0" stroke="#161616" stroke-width="2.6" fill="none"/>
<line x1="26.97545248490163" y1="656.4346850896358" x2="61.5" y2="624.7" stroke-width="1.6" stroke="#161616"/>
<path d="M35.3,648.8 L31.6,656.6 L27.2,651.8 Z" fill="#161616"/>
<path d="M48.1,637.0 L51.8,629.2 L56.2,634.0 Z" fill="#161616"/>
<ellipse cx="95" cy="642.9" rx="8.2" ry="9.0" stroke="#161616" stroke-width="2.6" fill="none"/>
<line x1="80.81620887295539" y1="657.0003570615913" x2="112" y2="626" stroke-width="1.6" stroke="#161616"/>
<path d="M88.8,649.0 L85.4,656.9 L80.9,652.4 Z" fill="#161616"/>
<path d="M101.2,636.8 L104.6,628.9 L109.1,633.4 Z" fill="#161616"/>
<ellipse cx="173" cy="644.5" rx="8.2" ry="9.0" stroke="#161616" stroke-width="2.6" fill="none"/>
<line x1="159.1737736128893" y1="658.9511405740988" x2="190.7" y2="626" stroke-width="1.6" stroke="#161616"/>
<path d="M167.0,650.8 L163.8,658.8 L159.1,654.4 Z" fill="#161616"/>
<path d="M179.0,638.2 L182.2,630.2 L186.9,634.6 Z" fill="#161616"/>
<text x="255.5" y="658.9" font-size="21" font-family="Liberation Serif" font-weight="bold" textLength="23.4" lengthAdjust="spacingAndGlyphs">Кл</text>
<text x="306.7" y="581.6" font-size="23" font-family="Liberation Serif" stroke="#161616" stroke-width="0.25" textLength="195.8" lengthAdjust="spacingAndGlyphs">Контакт разборного</text>
<text x="295.6" y="603.9" font-size="23" font-family="Liberation Serif" stroke="#161616" stroke-width="0.25" textLength="110.3" lengthAdjust="spacingAndGlyphs">соединения</text>
<ellipse cx="347.3" cy="617.5" rx="4.6" ry="5.6" stroke="#161616" stroke-width="1.7" fill="none"/>
<line x1="341" y1="623.8" x2="353.6" y2="609.8" stroke-width="1.7" stroke="#161616"/>
<text x="356.5" y="623.8" font-size="18" font-family="Liberation Mono" stroke="#161616" stroke-width="0.35" textLength="53.6" lengthAdjust="spacingAndGlyphs">2...3</text>
<ellipse cx="444.6" cy="617.5" rx="4.6" ry="5.6" stroke="#161616" stroke-width="1.7" fill="none"/>
<line x1="438.3" y1="623.8" x2="450.90000000000003" y2="609.8" stroke-width="1.7" stroke="#161616"/>
<text x="452.5" y="623.8" font-size="18" font-family="Liberation Mono" stroke="#161616" stroke-width="0.35" textLength="59.7" lengthAdjust="spacingAndGlyphs">2...3</text>
<line x1="357" y1="627" x2="420.8" y2="627" stroke-width="1.6" stroke="#161616"/>
<line x1="445" y1="628" x2="512" y2="628" stroke-width="1.6" stroke="#161616"/>
<line x1="304.4" y1="641.3" x2="368.2" y2="641.3" stroke-width="2.5" stroke="#161616"/>
<line x1="392" y1="642" x2="445" y2="642" stroke-width="2.5" stroke="#161616"/>
<ellipse cx="339.4" cy="642.9" rx="8.2" ry="9.0" stroke="#161616" stroke-width="2.6" fill="none"/>
<line x1="324.55930024086786" y1="656.3072230778523" x2="357" y2="627" stroke-width="1.6" stroke="#161616"/>
<path d="M332.9,648.7 L329.2,656.5 L324.9,651.7 Z" fill="#161616"/>
<path d="M345.9,637.1 L349.6,629.3 L353.9,634.1 Z" fill="#161616"/>
<ellipse cx="428.8" cy="644.5" rx="8.2" ry="9.0" stroke="#161616" stroke-width="2.6" fill="none"/>
<line x1="414.788198400036" y1="658.7712794073708" x2="445" y2="628" stroke-width="1.6" stroke="#161616"/>
<path d="M422.7,650.7 L419.4,658.7 L414.8,654.2 Z" fill="#161616"/>
<path d="M434.9,638.3 L438.2,630.3 L442.8,634.8 Z" fill="#161616"/>
<text x="521.5" y="656.4" font-size="22" font-family="Liberation Serif" font-weight="bold" textLength="24.5" lengthAdjust="spacingAndGlyphs">XT</text>
<text x="576.1" y="580.3" font-size="22.3" font-family="Liberation Serif" stroke="#161616" stroke-width="0.25" textLength="215.0" lengthAdjust="spacingAndGlyphs">Контакт неразборного</text>
<text x="565.0" y="603.3" font-size="24" font-family="Liberation Serif" stroke="#161616" stroke-width="0.25" textLength="109.6" lengthAdjust="spacingAndGlyphs">соединения</text>
<ellipse cx="628.0" cy="616.2" rx="5.0" ry="6.0" stroke="#161616" stroke-width="1.7" fill="none"/>
<line x1="621.3" y1="623" x2="634.8" y2="608.0" stroke-width="1.7" stroke="#161616"/>
<text x="635.5" y="623" font-size="18" font-family="Liberation Mono" stroke="#161616" stroke-width="0.35" textLength="75.0" lengthAdjust="spacingAndGlyphs">1,5...2</text>
<ellipse cx="732.8" cy="616.2" rx="5.0" ry="6.0" stroke="#161616" stroke-width="1.7" fill="none"/>
<line x1="726" y1="623" x2="739.5" y2="608.0" stroke-width="1.7" stroke="#161616"/>
<text x="740.5" y="623" font-size="18" font-family="Liberation Mono" stroke="#161616" stroke-width="0.35" textLength="70.0" lengthAdjust="spacingAndGlyphs">1,5...2</text>
<line x1="627.7" y1="626" x2="705" y2="626" stroke-width="1.6" stroke="#161616"/>
<line x1="731" y1="625.5" x2="810" y2="625.5" stroke-width="1.6" stroke="#161616"/>
<ellipse cx="611.6" cy="642.3" rx="8.2" ry="9.0" stroke="#161616" stroke-width="2.6" fill="none"/>
<line x1="597.5454292745112" y1="656.5291616661781" x2="627.7" y2="626" stroke-width="1.6" stroke="#161616"/>
<path d="M605.5,648.5 L602.1,656.4 L597.6,651.9 Z" fill="#161616"/>
<path d="M617.7,636.1 L621.1,628.2 L625.6,632.7 Z" fill="#161616"/>
<ellipse cx="714.8" cy="644" rx="8.2" ry="9.0" stroke="#161616" stroke-width="2.6" fill="none"/>
<line x1="701.6241507601324" y1="659.0464945023178" x2="731" y2="625.5" stroke-width="1.6" stroke="#161616"/>
<path d="M709.1,650.5 L706.2,658.7 L701.4,654.5 Z" fill="#161616"/>
<path d="M720.5,637.5 L723.4,629.3 L728.2,633.5 Z" fill="#161616"/>
<text x="817.5" y="653.6" font-size="21" font-family="Liberation Serif" font-weight="bold" textLength="11.5" lengthAdjust="spacingAndGlyphs">X</text>
<text x="41.4" y="684.1" font-size="21.2" font-family="Liberation Serif" stroke="#161616" stroke-width="0.35" textLength="154.5" lengthAdjust="spacingAndGlyphs">Предохранитель</text>
<text x="30.3" y="707.1" font-size="24" font-family="Liberation Serif" stroke="#161616" stroke-width="0.35" textLength="76.2" lengthAdjust="spacingAndGlyphs">плавкий</text>
<rect x="128.9" y="711" width="50.1" height="20" stroke-width="4" stroke="#161616" fill="none"/>
<line x1="101.3" y1="722.4" x2="126.9" y2="722.4" stroke-width="3.5" stroke="#161616"/>
<line x1="181" y1="722.4" x2="206.6" y2="722.4" stroke-width="3.5" stroke="#161616"/>
<line x1="181" y1="708.4" x2="232" y2="708.4" stroke-width="1.6" stroke="#161616"/>
<line x1="181" y1="733.9" x2="232" y2="733.9" stroke-width="1.6" stroke="#161616"/>
<line x1="229" y1="691.5" x2="229" y2="744" stroke-width="1.6" stroke="#161616"/>
<path d="M229.0,708.6 L232.3,718.6 L225.7,718.6 Z" fill="#161616"/>
<path d="M229.0,733.7 L225.7,723.7 L232.3,723.7 Z" fill="#161616"/>
<text x="0" y="0" font-size="23" font-family="Liberation Mono" stroke="#161616" stroke-width="0.05" text-anchor="middle" dominant-baseline="central" transform="translate(206.6,698.5) rotate(-90)">4</text>
<line x1="125.3" y1="733" x2="125.3" y2="757" stroke-width="1.6" stroke="#161616"/>
<line x1="180" y1="733" x2="180" y2="757" stroke-width="1.6" stroke="#161616"/>
<line x1="61.5" y1="752.7" x2="180" y2="752.7" stroke-width="1.6" stroke="#161616"/>
<path d="M134.8,752.7 L142.8,749.3 L142.8,756.1 Z" fill="#161616"/>
<path d="M171.5,752.7 L163.5,756.1 L163.5,749.3 Z" fill="#161616"/>
<text x="62.5" y="749" font-size="18" font-family="Liberation Mono" stroke="#161616" stroke-width="0.35" textLength="23.4" lengthAdjust="spacingAndGlyphs">10</text>
<text x="258.7" y="749" font-size="17" font-family="Liberation Mono" stroke="#161616" stroke-width="0.55" textLength="21.8" lengthAdjust="spacingAndGlyphs">FU</text>
<text x="307.2" y="685.6" font-size="23" font-family="Liberation Serif" stroke="#161616" stroke-width="0.25" textLength="246.3" lengthAdjust="spacingAndGlyphs">Элемент нагревательный</text>
<text x="429.9" y="704.3" font-size="17" font-family="Liberation Mono" stroke="#161616" stroke-width="0.35" textLength="23.3" lengthAdjust="spacingAndGlyphs">R2</text>
<line x1="409.6" y1="709.7" x2="455.9" y2="709.7" stroke-width="1.6" stroke="#161616"/>
<path d="M409.0,709.7 L419.0,706.4 L419.0,713.0 Z" fill="#161616"/>
<path d="M349,750.5 L378.7,750.5 L378.7,722 A16.2,16.2 0 0 1 411.2,722 L411.2,750.5 L441.5,750.5" stroke-width="3.5" stroke="#161616" fill="none"/>
<line x1="402" y1="718" x2="396" y2="723" stroke-width="1.5" stroke="#161616"/>
<path d="M404.0,716.0 L400.9,721.7 L397.9,718.0 Z" fill="#161616"/>
<line x1="327.6" y1="708.4" x2="327.6" y2="748" stroke-width="1.6" stroke="#161616"/>
<path d="M327.6,708.8 L330.9,718.8 L324.3,718.8 Z" fill="#161616"/>
<path d="M327.6,747.6 L324.3,737.6 L330.9,737.6 Z" fill="#161616"/>
<line x1="317" y1="708.4" x2="398.5" y2="708.4" stroke-width="1.6" stroke="#161616"/>
<line x1="315" y1="748" x2="377" y2="748" stroke-width="1.6" stroke="#161616"/>
<text x="520.5" y="755.3" font-size="20" font-family="Liberation Serif" stroke="#161616" stroke-width="0.25" textLength="26.8" lengthAdjust="spacingAndGlyphs">ЕК</text>
<text x="597.4" y="684.4" font-size="22" font-family="Liberation Serif" stroke="#161616" stroke-width="0.35" textLength="66.8" lengthAdjust="spacingAndGlyphs">Корпус</text>
<line x1="691.6" y1="682.2" x2="691.6" y2="717" stroke-width="4" stroke="#161616"/>
<line x1="668" y1="719.3" x2="714.2" y2="719.3" stroke-width="5.5" stroke="#161616"/>
<line x1="668" y1="721" x2="668" y2="748.3" stroke-width="1.6" stroke="#161616"/>
<line x1="714.2" y1="721" x2="714.2" y2="748.3" stroke-width="1.6" stroke="#161616"/>
<line x1="668" y1="743.5" x2="792.3" y2="743.5" stroke-width="1.6" stroke="#161616"/>
<path d="M671.0,743.5 L680.0,740.2 L680.0,746.8 Z" fill="#161616"/>
<path d="M710.0,743.5 L701.0,746.8 L701.0,740.2 Z" fill="#161616"/>
<text x="725.5" y="737" font-size="18" font-family="Liberation Mono" stroke="#161616" stroke-width="0.35" textLength="64.0" lengthAdjust="spacingAndGlyphs">5...10</text>
<text x="40.7" y="788.2" font-size="21.2" font-family="Liberation Serif" stroke="#161616" stroke-width="0.25" textLength="199.8" lengthAdjust="spacingAndGlyphs">Обмотка добавочных</text>
<text x="31.0" y="809.8" font-size="23" font-family="Liberation Serif" stroke="#161616" stroke-width="0.25" textLength="184.1" lengthAdjust="spacingAndGlyphs">полюсов (токовая)</text>
<path d="M31.2,833.8 L53.5,833.8 C53.5,814.515 79.0,814.515 79.0,833.8 C79.0,814.515 104.5,814.515 104.5,833.8 L126.9,833.8" stroke-width="3" stroke="#161616" fill="none"/>
<path d="M90.2,827.4 L109.3,854.5 L238.5,854.5" stroke-width="1.5" stroke="#161616" fill="none"/>
<path d="M89.0,825.5 L96.0,830.3 L91.1,833.8 Z" fill="#161616"/>
<text x="142.3" y="854.5" font-size="13" font-family="Liberation Mono" stroke="#161616" stroke-width="0.35" textLength="7.7" lengthAdjust="spacingAndGlyphs">R</text>
<text x="159.9" y="853" font-size="18" font-family="Liberation Mono" stroke="#161616" stroke-width="0.35" textLength="77.6" lengthAdjust="spacingAndGlyphs">1,5...4</text>
<text x="307.0" y="788.9" font-size="22.3" font-family="Liberation Serif" stroke="#161616" stroke-width="0.25" textLength="241.9" lengthAdjust="spacingAndGlyphs">Обмотка статора, обмо-</text>
<text x="295.9" y="810.5" font-size="21.4" font-family="Liberation Serif" stroke="#161616" stroke-width="0.25" textLength="233.8" lengthAdjust="spacingAndGlyphs">тка последовательного</text>
<text x="296.3" y="833.6" font-size="24.4" font-family="Liberation Serif" stroke="#161616" stroke-width="0.25" textLength="251.0" lengthAdjust="spacingAndGlyphs">возбуждения машины пос-</text>
<text x="296.3" y="855.9" font-size="24.4" font-family="Liberation Serif" stroke="#161616" stroke-width="0.25" textLength="144.2" lengthAdjust="spacingAndGlyphs">тоянного тока</text>
<path d="M424,862.5 L443,862.5 C443.0,841.22 470.6666666666667,841.22 470.6666666666667,862.5 C470.6666666666667,841.22 498.33333333333337,841.22 498.33333333333337,862.5 C498.3333333333333,841.22 526.0,841.22 526.0,862.5 L546.8,862.5" stroke-width="3" stroke="#161616" fill="none"/>
<text x="573.5" y="788.9" font-size="22.3" font-family="Liberation Serif" stroke="#161616" stroke-width="0.25" textLength="235.4" lengthAdjust="spacingAndGlyphs">Обмотка индуктивности</text>
<text x="806.3" y="820" font-size="16" font-family="Liberation Serif" stroke="#161616" stroke-width="0.25" textLength="10.7" lengthAdjust="spacingAndGlyphs">L</text>
<text x="630.5" y="829.7" font-size="18" font-family="Liberation Mono" stroke="#161616" stroke-width="0.35" textLength="101.0" lengthAdjust="spacingAndGlyphs">R 1,5...4</text>
<path d="M527.6,856 L564,838.6 L581,832.3 L760,829.7 L768,844.3" stroke-width="1.5" stroke="#161616" fill="none"/>
<path d="M527.6,856.0 L533.5,849.8 L536.1,855.2 Z" fill="#161616"/>
<path d="M768.0,844.3 L761.4,838.9 L766.6,835.9 Z" fill="#161616"/>
<path d="M653.5,856.5 L685.8,856.5 C685.8,837.88 712.425,837.88 712.425,856.5 C712.425,837.88 739.05,837.88 739.05,856.5 C739.05,837.88 765.675,837.88 765.675,856.5 C765.675,837.88 792.3,837.88 792.3,856.5 L814.8,856.5" stroke-width="3" stroke="#161616" fill="none"/>
<text x="40.5" y="895.1" font-size="21" font-family="Liberation Mono" stroke="#161616" stroke-width="0.55" textLength="130.6" lengthAdjust="spacingAndGlyphs">Заземление</text>
<line x1="40.1" y1="922.7" x2="54.8" y2="922.7" stroke-width="2.8" stroke="#161616"/>
<line x1="58" y1="922.7" x2="75.8" y2="922.7" stroke-width="2.8" stroke="#161616"/>
<line x1="80.9" y1="922.7" x2="98.1" y2="922.7" stroke-width="2.8" stroke="#161616"/>
<line x1="102.6" y1="922.7" x2="117.3" y2="922.7" stroke-width="2.8" stroke="#161616"/>
<line x1="123" y1="922.7" x2="138" y2="922.7" stroke-width="2.8" stroke="#161616"/>
<path d="M125.6,911.2 L139.6,922.7 L125.6,933.7" stroke-width="4.2" stroke="#161616" fill="none"/>
<text x="172.5" y="929.2" font-size="20" font-family="Liberation Serif" font-weight="bold" textLength="39.4" lengthAdjust="spacingAndGlyphs">ЗМЛ</text>
<text x="40.2" y="946" font-size="20" font-family="Liberation Mono" stroke="#161616" stroke-width="0.35" textLength="39.3" lengthAdjust="spacingAndGlyphs">или</text>
<text x="105.6" y="964.3" font-size="20" font-family="Liberation Serif" font-weight="bold" textLength="39.3" lengthAdjust="spacingAndGlyphs">ЗМЛ</text>
<line x1="164.3" y1="958" x2="180" y2="958" stroke-width="2.8" stroke="#161616"/>
<line x1="186.3" y1="958" x2="202" y2="958" stroke-width="2.8" stroke="#161616"/>
<line x1="207.2" y1="958" x2="224.6" y2="958" stroke-width="2.8" stroke="#161616"/>
<line x1="231" y1="958" x2="245" y2="958" stroke-width="2.8" stroke="#161616"/>
<path d="M232.6,946.5 L246.6,958 L232.6,969" stroke-width="4.2" stroke="#161616" fill="none"/>
<text x="428.9" y="892.8" font-size="21.5" font-family="Liberation Serif" stroke="#161616" stroke-width="0.35" textLength="121.5" lengthAdjust="spacingAndGlyphs">Выключатель</text>
<text x="294.7" y="915" font-size="23" font-family="Liberation Serif" stroke="#161616" stroke-width="0.25" textLength="254.2" lengthAdjust="spacingAndGlyphs">а) с замыкающим контак-</text>
<text x="295.5" y="936.9" font-size="23" font-family="Liberation Serif" stroke="#161616" stroke-width="0.25" textLength="32.7" lengthAdjust="spacingAndGlyphs">том</text>
<path d="M378.3,936.7 L366.8,936.7 L366.8,961.5 L378.3,961.5" stroke-width="3.2" stroke="#161616" fill="none"/>
<line x1="366.8" y1="943.6" x2="459.9" y2="943.6" stroke-width="1.6" stroke="#161616"/>
<line x1="366.8" y1="953.3" x2="459.9" y2="953.3" stroke-width="1.6" stroke="#161616"/>
<path d="M393.6,930.3 L403.8,945.6 Q407.6,952 407.6,966" stroke-width="2.4" stroke="#161616" fill="none"/>
<line x1="407.6" y1="922.7" x2="407.6" y2="935.4" stroke-width="3" stroke="#161616"/>
<line x1="317" y1="967.3" x2="431.8" y2="967.3" stroke-width="1.6" stroke="#161616"/>
<path d="M366.8,967.3 L356.8,970.6 L356.8,964.0 Z" fill="#161616"/>
<path d="M407.6,967.3 L417.6,964.0 L417.6,970.6 Z" fill="#161616"/>
<text x="319.8" y="960.5" font-size="18" font-family="Liberation Mono" stroke="#161616" stroke-width="0.35" textLength="10.6" lengthAdjust="spacingAndGlyphs">7</text>
<line x1="457.9" y1="926.5" x2="457.9" y2="968.6" stroke-width="1.6" stroke="#161616"/>
<path d="M457.9,943.6 L454.6,933.6 L461.2,933.6 Z" fill="#161616"/>
<path d="M457.9,953.3 L461.2,963.3 L454.6,963.3 Z" fill="#161616"/>
<path d="M459.9,948.2 L490.5,957.9 L528.8,957.9" stroke-width="1.5" stroke="#161616" fill="none"/>
<text x="493.5" y="952.5" font-size="18" font-family="Liberation Mono" stroke="#161616" stroke-width="0.35" textLength="36.0" lengthAdjust="spacingAndGlyphs">1,5</text>
<text x="527.1" y="971.7" font-size="17" font-family="Liberation Mono" stroke="#161616" stroke-width="0.35" textLength="23.4" lengthAdjust="spacingAndGlyphs">SB</text>
<text x="574.1" y="893.5" font-size="23" font-family="Liberation Serif" stroke="#161616" stroke-width="0.35" textLength="98.4" lengthAdjust="spacingAndGlyphs">кнопочный</text>
<text x="562.7" y="914.6" font-size="23" font-family="Liberation Serif" stroke="#161616" stroke-width="0.25" textLength="267.2" lengthAdjust="spacingAndGlyphs">б) с размыкающим контак-</text>
<text x="562.7" y="937.3" font-size="23" font-family="Liberation Serif" stroke="#161616" stroke-width="0.25" textLength="32.8" lengthAdjust="spacingAndGlyphs">том</text>
<path d="M633.6,931.8 L619.1,931.8 L619.1,956.2 L633.6,956.2" stroke-width="3.5" stroke="#161616" fill="none"/>
<line x1="619.1" y1="940" x2="679" y2="940" stroke-width="2.8" stroke="#161616"/>
<line x1="619.1" y1="947.5" x2="679" y2="947.5" stroke-width="2.8" stroke="#161616"/>
<path d="M658,920.2 L658,932.4 L683,932.4" stroke-width="3.5" stroke="#161616" fill="none"/>
<line x1="672" y1="924.9" x2="676.6" y2="935" stroke-width="2.5" stroke="#161616"/>
<line x1="674.2" y1="932.4" x2="685.8" y2="957.9" stroke-width="3" stroke="#161616"/>
<path d="M685.8,956.2 L657.4,956.2 L657.4,968.4" stroke-width="3.5" stroke="#161616" fill="none"/>
<text x="807.9" y="968" font-size="17" font-family="Liberation Mono" stroke="#161616" stroke-width="0.35" textLength="22.0" lengthAdjust="spacingAndGlyphs">SB</text>
<text x="40.5" y="996" font-size="23" font-family="Liberation Serif" stroke="#161616" stroke-width="0.35" textLength="65.4" lengthAdjust="spacingAndGlyphs">Прибор</text>
<ellipse cx="139.0" cy="997.6" rx="4.3" ry="5.2" stroke="#161616" stroke-width="1.7" fill="none"/>
<line x1="133.2" y1="1003.5" x2="144.89999999999998" y2="990.5" stroke-width="1.7" stroke="#161616"/>
<text x="158.3" y="1006.7" font-size="18" font-family="Liberation Mono" stroke="#161616" stroke-width="0.35" textLength="24.9" lengthAdjust="spacingAndGlyphs">10</text>
<line x1="141.2" y1="1010.5" x2="184.3" y2="1010.5" stroke-width="1.6" stroke="#161616"/>
<circle cx="112.5" cy="1037" r="20.7" stroke-width="3.2" stroke="#161616" fill="none"/>
<line x1="141.2" y1="1010.5" x2="126" y2="1024" stroke-width="1.5" stroke="#161616"/>
<line x1="99" y1="1050" x2="126" y2="1024" stroke-width="1.5" stroke="#161616"/>
<path d="M98.0,1051.0 L101.5,1043.2 L105.8,1047.5 Z" fill="#161616"/>
<path d="M127.0,1023.0 L123.5,1030.8 L119.2,1026.5 Z" fill="#161616"/>
<text x="206.1" y="998.7" font-size="21" font-family="Liberation Serif" stroke="#161616" stroke-width="0.35" textLength="23.4" lengthAdjust="spacingAndGlyphs">PA</text>
<text x="250.8" y="998.7" font-size="21" font-family="Liberation Serif" stroke="#161616" stroke-width="0.35" textLength="21.7" lengthAdjust="spacingAndGlyphs">PV</text>
<text x="306.2" y="998.3" font-size="23" font-family="Liberation Serif" stroke="#161616" stroke-width="0.25" textLength="76.4" lengthAdjust="spacingAndGlyphs">Батарея</text>
<line x1="299.6" y1="1041.8" x2="334.7" y2="1041.8" stroke-width="3.5" stroke="#161616"/>
<line x1="334.7" y1="1027.4" x2="334.7" y2="1053.6" stroke-width="4.5" stroke="#161616"/>
<line x1="345.8" y1="1016.3" x2="345.8" y2="1062.5" stroke-width="3" stroke="#161616"/>
<line x1="347.4" y1="1042.7" x2="365" y2="1042.7" stroke-width="1.6" stroke="#161616"/>
<line x1="373" y1="1042.7" x2="392" y2="1042.7" stroke-width="1.6" stroke="#161616"/>
<line x1="400" y1="1042.7" x2="417.6" y2="1042.7" stroke-width="1.6" stroke="#161616"/>
<line x1="424" y1="1042.7" x2="434" y2="1042.7" stroke-width="1.6" stroke="#161616"/>
<line x1="436" y1="1029" x2="436" y2="1053.6" stroke-width="4.5" stroke="#161616"/>
<line x1="448" y1="1017.8" x2="448" y2="1062.5" stroke-width="3" stroke="#161616"/>
<line x1="448" y1="1042.7" x2="486.2" y2="1042.7" stroke-width="3.5" stroke="#161616"/>
<text x="572.9" y="997.5" font-size="21.5" font-family="Liberation Serif" stroke="#161616" stroke-width="0.25" textLength="221.6" lengthAdjust="spacingAndGlyphs">Звонок электрический</text>
<path d="M647,1027.4 A21,21 0 0 1 689,1027.4 Z" stroke-width="3.5" stroke="#161616" fill="none"/>
<line x1="656" y1="1027.4" x2="656" y2="1065" stroke-width="3.5" stroke="#161616"/>
<line x1="682.6" y1="1027.4" x2="682.6" y2="1065" stroke-width="3.5" stroke="#161616"/>
<text x="39.3" y="1099.5" font-size="22.3" font-family="Liberation Serif" stroke="#161616" stroke-width="0.25" textLength="201.2" lengthAdjust="spacingAndGlyphs">Машина постоянного</text>
<text x="30.3" y="1121.8" font-size="23" font-family="Liberation Serif" stroke="#161616" stroke-width="0.25" textLength="41.4" lengthAdjust="spacingAndGlyphs">тока</text>
<ellipse cx="148.0" cy="1121.4" rx="3.8" ry="4.6" stroke="#161616" stroke-width="1.7" fill="none"/>
<line x1="142.8" y1="1126.6" x2="153.15" y2="1115.1" stroke-width="1.7" stroke="#161616"/>
<text x="164.5" y="1128.2" font-size="18" font-family="Liberation Mono" stroke="#161616" stroke-width="0.35" textLength="23.5" lengthAdjust="spacingAndGlyphs">20</text>
<line x1="142.8" y1="1133" x2="189" y2="1133" stroke-width="1.6" stroke="#161616"/>
<line x1="135.7" y1="1139" x2="145" y2="1133" stroke-width="1.5" stroke="#161616"/>
<circle cx="117.1" cy="1149.9" r="19.3" stroke-width="2.8" stroke="#161616" fill="none"/>
<rect x="89.7" y="1143.7" width="8.4" height="12.5" fill="#161616"/>
<rect x="137.5" y="1144.6" width="8.8" height="11.6" fill="#161616"/>
<line x1="101.8" y1="1159" x2="135.7" y2="1139" stroke-width="1.5" stroke="#161616"/>
<path d="M102.3,1158.7 L108.3,1151.2 L111.8,1157.1 Z" fill="#161616"/>
<path d="M131.0,1141.8 L125.0,1149.3 L121.5,1143.4 Z" fill="#161616"/>
<text x="265.0" y="1179.5" font-size="22" font-family="Liberation Serif" font-weight="bold" textLength="13.9" lengthAdjust="spacingAndGlyphs">M</text>
<text x="310.6" y="1101.6" font-size="23" font-family="Liberation Serif" stroke="#161616" stroke-width="0.25" textLength="166.5" lengthAdjust="spacingAndGlyphs">Обмотка токовая</text>
<rect x="382.5" y="1127" width="62.3" height="31.5" stroke-width="3" stroke="#161616" fill="none"/>
<line x1="402.3" y1="1127" x2="402.3" y2="1158.5" stroke-width="3" stroke="#161616"/>
<text x="383.5" y="1155.3" font-size="16" font-family="Liberation Mono" stroke="#161616" stroke-width="0.35" textLength="12.3" lengthAdjust="spacingAndGlyphs">J</text>
<line x1="413.8" y1="1109" x2="413.8" y2="1125.5" stroke-width="3.5" stroke="#161616"/>
<line x1="413.8" y1="1160" x2="413.8" y2="1176" stroke-width="3.5" stroke="#161616"/>
<text x="520.8" y="1179.3" font-size="20" font-family="Liberation Serif" stroke="#161616" stroke-width="0.25" textLength="24.9" lengthAdjust="spacingAndGlyphs">КА</text>
<text x="577.2" y="1101" font-size="22.3" font-family="Liberation Serif" stroke="#161616" stroke-width="0.25" textLength="199.3" lengthAdjust="spacingAndGlyphs">Обмотка напряжения</text>
<rect x="640.5" y="1126.5" width="63.2" height="31" stroke-width="3" stroke="#161616" fill="none"/>
<line x1="658.4" y1="1126.5" x2="658.4" y2="1157.5" stroke-width="3" stroke="#161616"/>
<line x1="672.3" y1="1111" x2="672.3" y2="1125" stroke-width="3.5" stroke="#161616"/>
<line x1="672.3" y1="1158.5" x2="672.3" y2="1172.4" stroke-width="3.5" stroke="#161616"/>
<text x="801.5" y="1169.2" font-size="20" font-family="Liberation Serif" stroke="#161616" stroke-width="0.25" textLength="23.5" lengthAdjust="spacingAndGlyphs">KV</text>
<text x="40.2" y="1207.5" font-size="21" font-family="Liberation Mono" stroke="#161616" stroke-width="0.55" textLength="224.3" lengthAdjust="spacingAndGlyphs">Муфта электромаг-</text>
<text x="28.9" y="1229.8" font-size="21" font-family="Liberation Mono" stroke="#161616" stroke-width="0.55" textLength="76.2" lengthAdjust="spacingAndGlyphs">нитная</text>
<rect x="125.6" y="1218.3" width="21.2" height="37" stroke-width="3" stroke="#161616" fill="none"/>
<line x1="125" y1="1218.3" x2="148" y2="1218.3" stroke-width="4" stroke="#161616"/>
<line x1="108.3" y1="1237.9" x2="124.1" y2="1237.9" stroke-width="3" stroke="#161616"/>
<line x1="148.3" y1="1237.9" x2="164.1" y2="1237.9" stroke-width="4" stroke="#161616"/>
<line x1="148.3" y1="1216.8" x2="225.2" y2="1216.8" stroke-width="1.6" stroke="#161616"/>
<line x1="148.3" y1="1257.5" x2="225.2" y2="1257.5" stroke-width="1.6" stroke="#161616"/>
<line x1="214.6" y1="1217.5" x2="214.6" y2="1257" stroke-width="1.6" stroke="#161616"/>
<path d="M214.6,1217.3 L217.9,1227.3 L211.3,1227.3 Z" fill="#161616"/>
<path d="M214.6,1257.0 L211.3,1247.0 L217.9,1247.0 Z" fill="#161616"/>
<text x="0" y="0" font-size="23" font-family="Liberation Mono" stroke="#161616" stroke-width="0.05" text-anchor="middle" dominant-baseline="central" transform="translate(195.8,1236.4) rotate(-90)">10</text>
<line x1="135.4" y1="1256.8" x2="135.4" y2="1267.3" stroke-width="3" stroke="#161616"/>
<path d="M124.9,1276.4 L124.9,1267.3 L147.5,1267.3 L147.5,1276.4" stroke-width="3" stroke="#161616" fill="none"/>
<text x="250.8" y="1276" font-size="17" font-family="Liberation Mono" stroke="#161616" stroke-width="0.35" textLength="24.9" lengthAdjust="spacingAndGlyphs">YC</text>
<text x="333.3" y="1207.5" font-size="22.7" font-family="Liberation Serif" stroke="#161616" stroke-width="0.25" textLength="65.0" lengthAdjust="spacingAndGlyphs">Штырь</text>
<line x1="379.3" y1="1229.8" x2="446.3" y2="1229.8" stroke-width="4" stroke="#161616"/>
<line x1="428.8" y1="1214" x2="446.3" y2="1229.8" stroke-width="4.5" stroke="#161616"/>
<line x1="446.3" y1="1229.8" x2="428.8" y2="1245.8" stroke-width="4.5" stroke="#161616"/>
<line x1="446.3" y1="1229.8" x2="483" y2="1193.2" stroke-width="1.5" stroke="#161616"/>
<line x1="446.3" y1="1229.8" x2="484.6" y2="1265" stroke-width="1.5" stroke="#161616"/>
<path d="M473.9,1206.7 A36,36 0 0 1 473.9,1252.9" stroke-width="1.6" stroke="#161616" fill="none"/>
<path d="M473.9,1206.7 L480.4,1210.4 L476.4,1213.7 Z" fill="#161616"/>
<path d="M473.9,1252.9 L476.4,1245.9 L480.4,1249.2 Z" fill="#161616"/>
<text x="490.5" y="1228.3" font-size="19" font-family="Liberation Mono" stroke="#161616" stroke-width="0.35" textLength="37.6" lengthAdjust="spacingAndGlyphs">90°</text>
<text x="353.3" y="1261.7" font-size="18" font-family="Liberation Mono" stroke="#161616" stroke-width="0.35" textLength="48.8" lengthAdjust="spacingAndGlyphs">2...3</text>
<line x1="358.6" y1="1264.3" x2="427.8" y2="1264.3" stroke-width="1.6" stroke="#161616"/>
<path d="M427.8,1264.3 L417.8,1267.6 L417.8,1261.0 Z" fill="#161616"/>
<line x1="427.8" y1="1244.2" x2="427.8" y2="1269.7" stroke-width="1.6" stroke="#161616"/>
<line x1="446.3" y1="1229.8" x2="446.3" y2="1269.7" stroke-width="1.6" stroke="#161616"/>
<line x1="446.3" y1="1264.3" x2="467" y2="1264.3" stroke-width="1.6" stroke="#161616"/>
<path d="M446.3,1264.3 L456.3,1261.0 L456.3,1267.6 Z" fill="#161616"/>
<text x="520.8" y="1285.7" font-size="20" font-family="Liberation Serif" stroke="#161616" stroke-width="0.25" textLength="26.5" lengthAdjust="spacingAndGlyphs">XP</text>
<text x="585.2" y="1208.9" font-size="23" font-family="Liberation Serif" stroke="#161616" stroke-width="0.25" textLength="188.3" lengthAdjust="spacingAndGlyphs">Тиристор триодный</text>
<line x1="635.6" y1="1233.7" x2="755" y2="1233.7" stroke-width="1.8" stroke="#161616"/>
<path d="M679,1217.5 L706.6,1233.3" stroke-width="3.5" stroke="#161616" fill="none"/>
<line x1="679" y1="1217.5" x2="679" y2="1253" stroke-width="3.2" stroke="#161616"/>
<line x1="679" y1="1253" x2="679" y2="1281" stroke-width="1.5" stroke="#161616"/>
<line x1="706.6" y1="1233.3" x2="648.5" y2="1266.2" stroke-width="3.5" stroke="#161616"/>
<line x1="648.5" y1="1266.2" x2="648.5" y2="1281" stroke-width="1.5" stroke="#161616"/>
<line x1="707" y1="1216" x2="707" y2="1251.4" stroke-width="4" stroke="#161616"/>
<line x1="707" y1="1251.4" x2="707" y2="1281" stroke-width="1.5" stroke="#161616"/>
<line x1="707" y1="1251.4" x2="744" y2="1272.7" stroke-width="3.5" stroke="#161616"/>
<line x1="744" y1="1272.7" x2="744" y2="1281" stroke-width="1.5" stroke="#161616"/>
<path d="M640.6,1233.3 A66,66 0 0 0 648.9,1265.3" stroke-width="1.6" stroke="#161616" fill="none"/>
<path d="M640.6,1233.3 L643.2,1240.3 L638.0,1240.3 Z" fill="#161616"/>
<path d="M648.9,1265.3 L643.2,1260.4 L647.8,1257.9 Z" fill="#161616"/>
<path d="M751.6,1234.9 A45,45 0 0 1 738.4,1265.1" stroke-width="1.6" stroke="#161616" fill="none"/>
<path d="M751.6,1234.9 L753.9,1242.0 L748.7,1241.8 Z" fill="#161616"/>
<path d="M738.4,1265.1 L741.5,1258.3 L745.2,1262.0 Z" fill="#161616"/>
<text x="599.8" y="1257.8" font-size="19" font-family="Liberation Mono" stroke="#161616" stroke-width="0.35" textLength="36.5" lengthAdjust="spacingAndGlyphs">30°</text>
<text x="761.1" y="1257.8" font-size="19" font-family="Liberation Mono" stroke="#161616" stroke-width="0.35" textLength="34.9" lengthAdjust="spacingAndGlyphs">30°</text>
<text x="625.5" y="1275.5" font-size="18" font-family="Liberation Mono" stroke="#161616" stroke-width="0.35" textLength="12.4" lengthAdjust="spacingAndGlyphs">6</text>
<text x="753.0" y="1275.5" font-size="18" font-family="Liberation Mono" stroke="#161616" stroke-width="0.35" textLength="12.3" lengthAdjust="spacingAndGlyphs">6</text>
<line x1="619.9" y1="1279" x2="679" y2="1279" stroke-width="1.6" stroke="#161616"/>
<path d="M648.5,1279.0 L658.5,1275.7 L658.5,1282.3 Z" fill="#161616"/>
<path d="M679.0,1279.0 L669.0,1282.3 L669.0,1275.7 Z" fill="#161616"/>
<line x1="707" y1="1279" x2="765.8" y2="1279" stroke-width="1.6" stroke="#161616"/>
<path d="M707.0,1279.0 L717.0,1275.7 L717.0,1282.3 Z" fill="#161616"/>
<path d="M744.0,1279.0 L734.0,1282.3 L734.0,1275.7 Z" fill="#161616"/>
<text x="799.8" y="1275.5" font-size="17" font-family="Liberation Sans" textLength="23.7" lengthAdjust="spacingAndGlyphs">US</text>
</g></svg></body></html>
